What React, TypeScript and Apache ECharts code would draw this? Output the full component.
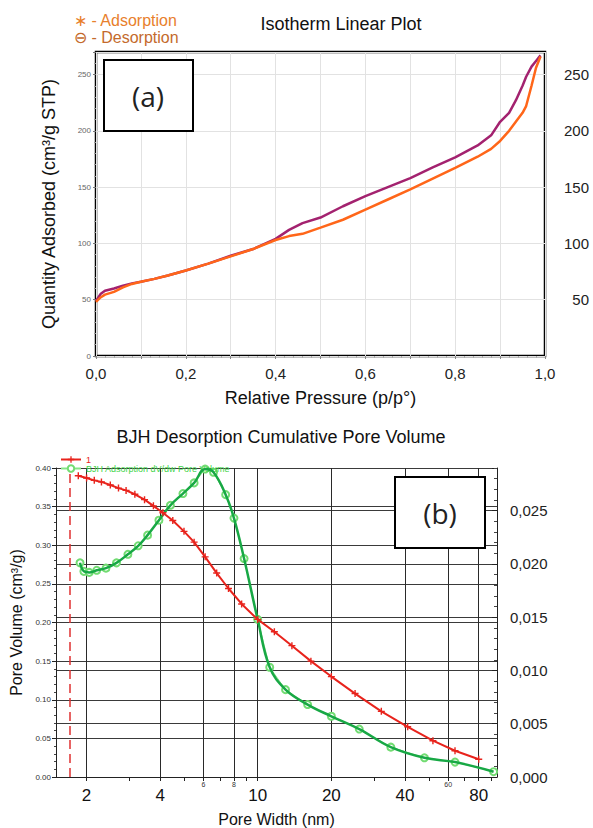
import React, { useEffect, useRef } from 'react';
import * as echarts from 'echarts';

// ---- (a) Isotherm linear plot ----
const isoPressure = [0, 0.01, 0.02, 0.04, 0.06, 0.08, 0.10, 0.13, 0.16, 0.20, 0.25, 0.30, 0.35, 0.40, 0.43, 0.46, 0.50, 0.55, 0.60, 0.65, 0.70, 0.75, 0.80, 0.85, 0.88, 0.90, 0.92, 0.935, 0.95, 0.958, 0.97, 0.98, 0.99];
const adsorptionQty = [48, 52, 54.5, 57, 61, 64, 66, 68.5, 71.5, 76, 82, 88.5, 95, 103, 106.5, 108.5, 114, 121, 130, 139, 148, 157.5, 167, 177, 184, 191, 200, 208, 216, 222, 240, 256, 266];
const desorptionQty = [49, 55, 58, 60, 62.5, 64.5, 66, 68.5, 71.5, 76, 82, 89, 95, 104, 112, 118, 123, 133, 142, 150, 158, 167.5, 176.5, 187, 196, 208, 216, 227, 240, 248, 257, 262, 267];

// ---- (b) BJH ----
const poreWidthCum = [1.85, 2.0, 2.15, 2.3, 2.5, 2.7, 2.9, 3.15, 3.45, 3.75, 4.1, 4.5, 5.0, 5.5, 6.1, 6.8, 7.6, 8.6, 10, 11.7, 13.8, 16.5, 20, 25, 32, 41, 52, 64, 80];
const cumulativeVolume = [0.390, 0.387, 0.384, 0.382, 0.378, 0.374, 0.371, 0.366, 0.359, 0.351, 0.342, 0.332, 0.318, 0.304, 0.285, 0.264, 0.244, 0.224, 0.204, 0.188, 0.170, 0.150, 0.130, 0.108, 0.085, 0.065, 0.047, 0.034, 0.023];
const poreWidthDiff = [1.88, 1.95, 2.05, 2.2, 2.4, 2.65, 2.95, 3.25, 3.55, 3.95, 4.4, 4.95, 5.5, 6.1, 6.6, 7.4, 8.0, 8.8, 10, 11.2, 13, 16, 20, 26, 35, 48, 64, 92];
const dVdwVolume = [0.0201, 0.0193, 0.0192, 0.0194, 0.0196, 0.0201, 0.0209, 0.0217, 0.0227, 0.0241, 0.0255, 0.0266, 0.0276, 0.0289, 0.0286, 0.0265, 0.0243, 0.0205, 0.0148, 0.0103, 0.0082, 0.0068, 0.0057, 0.0045, 0.0028, 0.0018, 0.0014, 0.0005];

const poreGridTicks = [2, 4, 6, 8, 10, 20, 40, 60, 80];
const poreSmallTicks = [6, 8, 60];
const poreMinorTicks = [2, 3, 4, 5, 6, 7, 8, 9, 10, 20, 30, 40, 50, 60, 70, 80, 90];
const cutoffWidth = 1.7;

const FONT = '"Liberation Sans", Arial, sans-serif';

const zip = (xs: number[], ys: number[]) => xs.map((x, i) => [x, ys[i]]);
const isMultiple = (v: number, step: number) => Math.abs(v / step - Math.round(v / step)) < 1e-6;

export default function App() {
  const ref = useRef<HTMLDivElement>(null);
  useEffect(() => {
    if (!ref.current) return;
    const chart = echarts.init(ref.current, undefined, { renderer: 'svg' });
    const option: any = {
      animation: false,
      backgroundColor: '#ffffff',
      textStyle: { fontFamily: FONT },
      title: [
        { text: 'Isotherm Linear Plot', left: 336, top: 10, textAlign: 'center',
          textStyle: { fontSize: 18, fontWeight: 'normal', color: '#111', fontFamily: FONT } },
        { text: 'BJH Desorption Cumulative Pore Volume', left: 276, top: 423, textAlign: 'center',
          textStyle: { fontSize: 18, fontWeight: 'normal', color: '#111', fontFamily: FONT } },
      ],
      legend: [
        {
          orient: 'vertical', left: 69, top: 12, padding: 0, itemGap: 1, itemWidth: 0, itemHeight: 14,
          data: [
            { name: '∗ - Adsorption', icon: 'none', textStyle: { color: '#e8802c' } },
            { name: '⊖ - Desorption', icon: 'none', textStyle: { color: '#c46a2c' } },
          ],
          textStyle: { fontSize: 16, lineHeight: 16, fontFamily: FONT },
          selectedMode: false,
        },
        {
          orient: 'vertical', left: 55, top: 450, itemGap: 0, itemWidth: 20, itemHeight: 8,
          data: [
            { name: '1', textStyle: { color: '#e8231c' } },
            { name: 'BJH Adsorption dV/dw Pore Volume', textStyle: { color: '#3fd44a' } },
          ],
          textStyle: { fontSize: 9, fontFamily: FONT },
          selectedMode: false,
        },
      ],
      grid: [
        { left: 96, right: 48, top: 52, bottom: 472, show: true, borderColor: '#000', borderWidth: 2.5, backgroundColor: 'transparent' },
        { left: 56, right: 96, top: 468, bottom: 50, show: false },
      ],
      xAxis: [
        {
          type: 'value', gridIndex: 0, min: 0, max: 1, interval: 0.1,
          axisLine: { show: false },
          axisTick: { show: true, length: 3, lineStyle: { color: '#888' } },
          minorTick: { show: true, splitNumber: 5, length: 2, lineStyle: { color: '#aaa' } },
          splitLine: { show: true, lineStyle: { color: '#e2e2e2', width: 1 } },
          axisLabel: {
            fontSize: 15, color: '#222', margin: 10,
            formatter: (v: number) => (Math.round(v * 10) % 2 === 0 ? v.toFixed(1).replace('.', ',') : ''),
          },
          name: 'Relative Pressure (p/p°)', nameLocation: 'middle', nameGap: 33,
          nameTextStyle: { fontSize: 18, color: '#111' },
        },
        {
          type: 'log', gridIndex: 1, min: 1.5, max: 95, logBase: 10,
          axisLine: { show: true, lineStyle: { color: '#222', width: 1 } },
          axisTick: { show: true, length: 4, customValues: poreMinorTicks, lineStyle: { color: '#222' } },
          splitLine: { show: false },
          minorTick: { show: false },
          axisLabel: {
            customValues: poreGridTicks, margin: 4, color: '#111',
            formatter: (v: number) => {
              const r = Math.round(v);
              return poreSmallTicks.includes(r) ? `{s|${r}}` : `{b|${r}}`;
            },
            rich: {
              s: { fontSize: 7, color: '#333', fontFamily: FONT },
              b: { fontSize: 17, color: '#111', fontFamily: FONT, padding: [6, 0, 0, 0] },
            },
          },
          name: 'Pore Width (nm)', nameLocation: 'middle', nameGap: 34,
          nameTextStyle: { fontSize: 16, color: '#111' },
        },
      ],
      yAxis: [
        {
          type: 'value', gridIndex: 0, min: 0, max: 270, interval: 50, position: 'left',
          axisLine: { show: false },
          axisTick: { show: true, length: 3, lineStyle: { color: '#777' } },
          minorTick: { show: true, splitNumber: 5, length: 2, lineStyle: { color: '#999' } },
          splitLine: { show: true, lineStyle: { color: '#e2e2e2', width: 1 } },
          axisLabel: { fontSize: 8, color: '#666', margin: 5, formatter: (v: number) => (isMultiple(v, 50) ? String(v) : '') },
          name: 'Quantity Adsorbed (cm³/g STP)', nameLocation: 'middle', nameGap: 38,
          nameTextStyle: { fontSize: 18, color: '#111' },
        },
        {
          type: 'value', gridIndex: 0, min: 0, max: 270, interval: 50, position: 'right',
          axisLine: { show: false }, axisTick: { show: false }, splitLine: { show: false },
          axisLabel: {
            fontSize: 15, color: '#222', margin: 44, align: 'right',
            formatter: (v: number) => (v > 0 && isMultiple(v, 50) ? String(v) : ''),
          },
        },
        {
          type: 'value', gridIndex: 1, min: 0, max: 0.4, interval: 0.05, position: 'left',
          axisLine: { show: true, lineStyle: { color: '#222', width: 1 } },
          axisTick: { show: true, length: 4, lineStyle: { color: '#222' } },
          minorTick: { show: true, splitNumber: 5, length: 2, lineStyle: { color: '#444' } },
          splitLine: { show: true, lineStyle: { color: '#3a3a3a', width: 1 } },
          axisLabel: { fontSize: 8, color: '#333', margin: 5, formatter: (v: number) => v.toFixed(2) },
          name: 'Pore Volume (cm³/g)', nameLocation: 'middle', nameGap: 25,
          nameTextStyle: { fontSize: 16, color: '#111' },
        },
        {
          type: 'value', gridIndex: 1, min: 0, max: 0.029, interval: 0.005, position: 'right',
          axisLine: { show: true, lineStyle: { color: '#222', width: 1 } },
          axisTick: { show: true, inside: true, length: 5, lineStyle: { color: '#222' } },
          minorTick: { show: true, splitNumber: 5, length: 3, lineStyle: { color: '#444' } },
          splitLine: { show: true, lineStyle: { color: '#3a3a3a', width: 1 } },
          axisLabel: {
            fontSize: 15, color: '#222', margin: 13,
            formatter: (v: number) => (isMultiple(v, 0.005) ? v.toFixed(3).replace('.', ',') : ''),
          },
        },
      ],
      series: [
        {
          name: '⊖ - Desorption', type: 'line', xAxisIndex: 0, yAxisIndex: 0,
          data: zip(isoPressure, desorptionQty), symbol: 'none',
          lineStyle: { color: '#a3226f', width: 2.5 }, itemStyle: { color: '#a3226f' },
        },
        {
          name: '∗ - Adsorption', type: 'line', xAxisIndex: 0, yAxisIndex: 0,
          data: zip(isoPressure, adsorptionQty), symbol: 'none',
          lineStyle: { color: '#ff6619', width: 2.5 }, itemStyle: { color: '#ff6619' },
        },
        {
          name: 'BJH Adsorption dV/dw Pore Volume', type: 'line', xAxisIndex: 1, yAxisIndex: 3,
          data: zip(poreWidthDiff, dVdwVolume), symbol: 'emptyCircle', symbolSize: 7,
          lineStyle: { color: '#86e486', width: 1 }, itemStyle: { color: '#72dc72', borderWidth: 1 },
          z: 3,
          markLine: {
            silent: true, symbol: ['none', 'none'], label: { show: false },
            lineStyle: { color: '#e03030', width: 1.5, type: [9, 5], opacity: 1 },
            itemStyle: { color: '#e03030' },
            data: [{ xAxis: cutoffWidth, lineStyle: { color: '#e03030' } }],
            z: 2,
          },
        },
        {
          name: 'dV/dw smoothed', type: 'line', xAxisIndex: 1, yAxisIndex: 3,
          data: zip(poreWidthDiff, dVdwVolume), symbol: 'none', smooth: 0.4,
          lineStyle: { color: '#18a845', width: 2.5 }, itemStyle: { color: '#18a845' },
          z: 4,
        },
        {
          name: '1', type: 'line', xAxisIndex: 1, yAxisIndex: 2,
          data: zip(poreWidthCum, cumulativeVolume),
          symbol: 'path://M4,0H6V4H10V6H6V10H4V6H0V4H4Z', symbolSize: 7,
          lineStyle: { color: '#e8231c', width: 2 }, itemStyle: { color: '#e8231c' },
          z: 5,
          markLine: {
            silent: true, symbol: ['none', 'none'], label: { show: false },
            lineStyle: { color: '#2a2a2a', width: 1, type: 'solid' },
            data: poreGridTicks.map((w) => ({ xAxis: w })),
            z: 1,
          },
        },
      ],
      graphic: [
        { type: 'rect', shape: { x: 104, y: 60, width: 89, height: 71 }, style: { fill: '#fff', stroke: '#000', lineWidth: 2 }, z: 100 },
        { type: 'text', x: 148, y: 96, z: 101, style: { text: '(a)', fontSize: 28, fontFamily: '"Open Sans", sans-serif', fill: '#222', align: 'center', verticalAlign: 'middle' } },
        { type: 'rect', shape: { x: 395, y: 477, width: 90, height: 71 }, style: { fill: '#fff', stroke: '#000', lineWidth: 2 }, z: 100 },
        { type: 'text', x: 440, y: 513, z: 101, style: { text: '(b)', fontSize: 28, fontFamily: '"Open Sans", sans-serif', fill: '#222', align: 'center', verticalAlign: 'middle' } },
      ],
    };
    chart.setOption(option);
    return () => chart.dispose();
  }, []);
  return <div ref={ref} style={{ position: 'absolute', left: 0, top: 0, width: 593, height: 828, background: '#fff' }} />;
}
